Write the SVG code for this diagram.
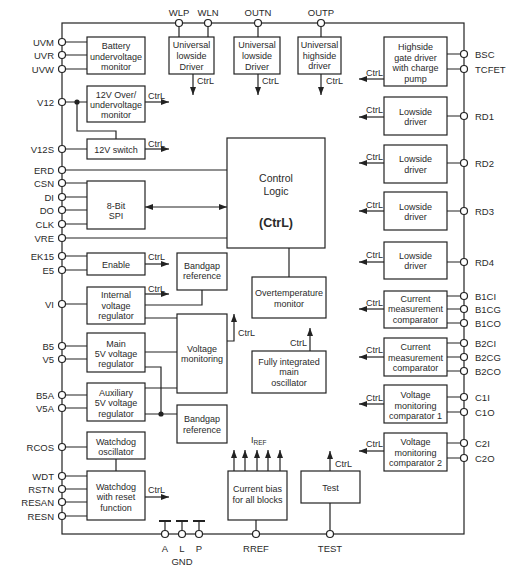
<svg xmlns="http://www.w3.org/2000/svg" width="519" height="574" viewBox="0 0 519 574">
<defs>
<marker id="ah" markerUnits="userSpaceOnUse" markerWidth="8" markerHeight="6" refX="8" refY="3" orient="auto"><path d="M0,0 L8,3 L0,6 z" fill="#222"/></marker>
<marker id="ahs" markerUnits="userSpaceOnUse" markerWidth="8" markerHeight="6" refX="0" refY="3" orient="auto"><path d="M8,0 L0,3 L8,6 z" fill="#222"/></marker>
</defs>
<style>
.b{fill:#fff;stroke:#222;stroke-width:1.2}
.l{fill:none;stroke:#222;stroke-width:1.2}
.a{fill:none;stroke:#222;stroke-width:1.2;marker-end:url(#ah)}
.p{fill:#fff;stroke:#222;stroke-width:1.2}
text{font-family:"Liberation Sans",Arial,sans-serif;font-size:9px;fill:#2a2a2a}
.c{text-anchor:middle}
.pl{font-size:9.5px;text-anchor:end}
.pr{font-size:9.5px}
.pt{font-size:9.5px;text-anchor:middle}
.big{font-size:10.5px;text-anchor:middle}
.bold{font-size:12.5px;font-weight:bold;text-anchor:middle}
</style>
<rect width="519" height="574" fill="#fff"/>

<g id="connectors">
<rect x="62" y="23" width="402" height="511" class="l"/>
<!-- top pins -->
<path class="l" d="M179,23V37M208,23V37M258,23V37M321,23V37"/>
<!-- battery -->
<path class="l" d="M62,42H87M62,55H87M62,69H87"/>
<!-- V12 -->
<path class="l" d="M62,102H87M77,102V131H116V139M62,149H87"/>
<circle cx="77" cy="102" r="2.6" fill="#222"/>
<!-- ERD, VRE, SPI -->
<path class="l" d="M62,170H227M62,238H227M62,183H87M62,197H87M62,210H87M62,224H87"/>
<path class="l" d="M145,207H227" style="marker-end:url(#ah);marker-start:url(#ahs)"/>
<!-- control to ot -->
<path class="l" d="M289,248V277"/>
<!-- right pins -->
<path class="l" d="M447,54H464M447,69H464M447,116H464M447,163H464M447,211H464M447,262H464M447,296H464M447,309H464M447,323H464M447,343H464M447,357H464M447,371H464M447,397H464M447,412H464M447,443H464M447,458H464"/>
<!-- left lower -->
<path class="l" d="M62,256H87M62,270H87M62,304H87M62,346H87M62,359H87M62,395H87M62,408H87M62,447H87M62,476H87M62,489H87M62,502H87M62,516H87"/>
<path class="l" d="M202,290V305H145M145,318H177M145,352H177M145,367H161V414M145,388H177M145,414H177M116,459V471"/>
<circle cx="161" cy="414" r="2.6" fill="#222"/>
<!-- bottom -->
<path class="l" d="M256,520V534M330,503V534M165,521V534M182,521V534M199,521V534"/>
<path d="M159,521H171M176,521H188M193,521H205" fill="none" stroke="#222" stroke-width="2"/>
<!-- CtrL arrows -->
<path class="a" d="M145,102H169"/>
<path class="a" d="M145,149H169"/>
<path class="a" d="M145,264H169"/>
<path class="a" d="M145,294H169"/>
<path class="a" d="M145,497H169"/>
<path class="a" d="M384,79H359"/>
<path class="a" d="M384,117H359"/>
<path class="a" d="M384,163H359"/>
<path class="a" d="M384,211H359"/>
<path class="a" d="M384,262H359"/>
<path class="a" d="M384,309H359"/>
<path class="a" d="M384,357H359"/>
<path class="a" d="M384,404H359"/>
<path class="a" d="M384,451H359"/>
<path class="a" d="M193,74V95"/>
<path class="a" d="M258,74V95"/>
<path class="a" d="M321,74V95"/>
<path class="a" d="M227,341H234V314"/>
<path class="a" d="M310,351V328"/>
<path class="a" d="M330,471V451"/>
<path class="a" d="M234,471V450"/>
<path class="a" d="M245,471V450"/>
<path class="a" d="M257,471V450"/>
<path class="a" d="M268,471V450"/>
<path class="a" d="M280,471V450"/>
<!-- CtrL labels -->
<text x="148" y="98.5">CtrL</text>
<text x="148" y="146.5">CtrL</text>
<text x="148" y="259.5">CtrL</text>
<text x="148" y="291.5">CtrL</text>
<text x="148" y="492.5">CtrL</text>
<text x="366" y="75.5">CtrL</text>
<text x="366" y="112.5">CtrL</text>
<text x="366" y="159.5">CtrL</text>
<text x="366" y="207.5">CtrL</text>
<text x="366" y="257.5">CtrL</text>
<text x="366" y="305.5">CtrL</text>
<text x="366" y="352.5">CtrL</text>
<text x="366" y="400.5">CtrL</text>
<text x="366" y="446.5">CtrL</text>
<text x="197" y="83.5">CtrL</text>
<text x="262" y="83.5">CtrL</text>
<text x="326" y="83.5">CtrL</text>
<text x="238" y="335.5">CtrL</text>
<text x="307" y="345.5" text-anchor="end">CtrL</text>
<text x="335" y="466.5">CtrL</text>
<text x="251" y="443">I<tspan font-size="6.5" dy="1.5">REF</tspan></text>
</g>

<g id="pins">
<g class="p">
<circle cx="179" cy="23" r="3.5"/><circle cx="208" cy="23" r="3.5"/><circle cx="258" cy="23" r="3.5"/><circle cx="321" cy="23" r="3.5"/>
<circle cx="62" cy="42" r="3.5"/><circle cx="62" cy="55" r="3.5"/><circle cx="62" cy="69" r="3.5"/><circle cx="62" cy="102" r="3.5"/><circle cx="62" cy="149" r="3.5"/><circle cx="62" cy="170" r="3.5"/><circle cx="62" cy="183" r="3.5"/><circle cx="62" cy="197" r="3.5"/><circle cx="62" cy="210" r="3.5"/><circle cx="62" cy="224" r="3.5"/><circle cx="62" cy="238" r="3.5"/><circle cx="62" cy="256" r="3.5"/><circle cx="62" cy="270" r="3.5"/><circle cx="62" cy="304" r="3.5"/><circle cx="62" cy="346" r="3.5"/><circle cx="62" cy="359" r="3.5"/><circle cx="62" cy="395" r="3.5"/><circle cx="62" cy="408" r="3.5"/><circle cx="62" cy="447" r="3.5"/><circle cx="62" cy="476" r="3.5"/><circle cx="62" cy="489" r="3.5"/><circle cx="62" cy="502" r="3.5"/><circle cx="62" cy="516" r="3.5"/>
<circle cx="464" cy="54" r="3.5"/><circle cx="464" cy="69" r="3.5"/><circle cx="464" cy="116" r="3.5"/><circle cx="464" cy="163" r="3.5"/><circle cx="464" cy="211" r="3.5"/><circle cx="464" cy="262" r="3.5"/><circle cx="464" cy="296" r="3.5"/><circle cx="464" cy="309" r="3.5"/><circle cx="464" cy="323" r="3.5"/><circle cx="464" cy="343" r="3.5"/><circle cx="464" cy="357" r="3.5"/><circle cx="464" cy="371" r="3.5"/><circle cx="464" cy="397" r="3.5"/><circle cx="464" cy="412" r="3.5"/><circle cx="464" cy="443" r="3.5"/><circle cx="464" cy="458" r="3.5"/>
<circle cx="165" cy="534" r="3.5"/><circle cx="182" cy="534" r="3.5"/><circle cx="199" cy="534" r="3.5"/><circle cx="256" cy="534" r="3.5"/><circle cx="330" cy="534" r="3.5"/>
</g>
<text class="pt" x="179" y="15.5">WLP</text><text class="pt" x="208" y="15.5">WLN</text><text class="pt" x="258" y="15.5">OUTN</text><text class="pt" x="321" y="15.5">OUTP</text>
<text class="pl" x="54" y="45.5">UVM</text><text class="pl" x="54" y="58.5">UVR</text><text class="pl" x="54" y="72.5">UVW</text><text class="pl" x="54" y="105.5">V12</text><text class="pl" x="54" y="152.5">V12S</text><text class="pl" x="54" y="173.5">ERD</text><text class="pl" x="54" y="186.5">CSN</text><text class="pl" x="54" y="200.5">DI</text><text class="pl" x="54" y="213.5">DO</text><text class="pl" x="54" y="227.5">CLK</text><text class="pl" x="54" y="241.5">VRE</text><text class="pl" x="54" y="259.5">EK15</text><text class="pl" x="54" y="273.5">E5</text><text class="pl" x="54" y="307.5">VI</text><text class="pl" x="54" y="349.5">B5</text><text class="pl" x="54" y="362.5">V5</text><text class="pl" x="54" y="398.5">B5A</text><text class="pl" x="54" y="411.5">V5A</text><text class="pl" x="54" y="450.5">RCOS</text><text class="pl" x="54" y="479.5">WDT</text><text class="pl" x="54" y="492.5">RSTN</text><text class="pl" x="54" y="505.5">RESAN</text><text class="pl" x="54" y="519.5">RESN</text>
<text class="pr" x="475" y="57.5">BSC</text><text class="pr" x="475" y="72.5">TCFET</text><text class="pr" x="475" y="119.5">RD1</text><text class="pr" x="475" y="166.5">RD2</text><text class="pr" x="475" y="214.5">RD3</text><text class="pr" x="475" y="265.5">RD4</text><text class="pr" x="475" y="299.5">B1CI</text><text class="pr" x="475" y="312.5">B1CG</text><text class="pr" x="475" y="326.5">B1CO</text><text class="pr" x="475" y="346.5">B2CI</text><text class="pr" x="475" y="360.5">B2CG</text><text class="pr" x="475" y="374.5">B2CO</text><text class="pr" x="475" y="400.5">C1I</text><text class="pr" x="475" y="415.5">C1O</text><text class="pr" x="475" y="446.5">C2I</text><text class="pr" x="475" y="461.5">C2O</text>
<text class="pt" x="165" y="551.5">A</text><text class="pt" x="182" y="551.5">L</text><text class="pt" x="199" y="551.5">P</text><text class="pt" x="182" y="564.5">GND</text><text class="pt" x="256" y="551.5">RREF</text><text class="pt" x="330" y="551.5">TEST</text>
</g>

<g id="battery"><rect class="b" x="87" y="37" width="58" height="37"/><text class="c" x="116" y="48.5">Battery</text><text class="c" x="116" y="59.5">undervoltage</text><text class="c" x="116" y="69.5">monitor</text></g>
<g id="uld1"><rect class="b" x="169" y="37" width="45" height="37"/><text class="c" x="191.5" y="47.5">Universal</text><text class="c" x="191.5" y="58.5">lowside</text><text class="c" x="191.5" y="69.5">Driver</text></g>
<g id="uld2"><rect class="b" x="234" y="37" width="46" height="37"/><text class="c" x="257" y="47.5">Universal</text><text class="c" x="257" y="58.5">lowside</text><text class="c" x="257" y="69.5">Driver</text></g>
<g id="uhd"><rect class="b" x="298" y="37" width="43" height="37"/><text class="c" x="319.5" y="47.5">Universal</text><text class="c" x="319.5" y="58.5">highside</text><text class="c" x="319.5" y="68.5">driver</text></g>
<g id="hsgd"><rect class="b" x="384" y="37" width="63" height="49"/><text class="c" x="415.5" y="49.5">Highside</text><text class="c" x="415.5" y="60.5">gate driver</text><text class="c" x="415.5" y="70.5">with charge</text><text class="c" x="415.5" y="81.5">pump</text></g>
<g id="ov12"><rect class="b" x="87" y="86" width="58" height="36"/><text class="c" x="116" y="97.5">12V Over/</text><text class="c" x="116" y="107.5">undervoltage</text><text class="c" x="116" y="117.5">monitor</text></g>
<g id="ld1"><rect class="b" x="384" y="97" width="63" height="38"/><text class="c" x="415.5" y="114.5">Lowside</text><text class="c" x="415.5" y="124.5">driver</text></g>
<g id="sw12"><rect class="b" x="87" y="139" width="58" height="20"/><text class="c" x="116" y="153">12V switch</text></g>
<g id="ctrl"><rect class="b" x="227" y="138" width="98" height="110"/><text class="big" x="276" y="181.5">Control</text><text class="big" x="276" y="194.5">Logic</text><text class="bold" x="276" y="226.5">(CtrL)</text></g>
<g id="ld2"><rect class="b" x="384" y="145" width="63" height="38"/><text class="c" x="415.5" y="161.5">Lowside</text><text class="c" x="415.5" y="172.5">driver</text></g>
<g id="spi"><rect class="b" x="87" y="181" width="58" height="48"/><text class="c" x="116" y="208.5">8-Bit</text><text class="c" x="116" y="218.5">SPI</text></g>
<g id="ld3"><rect class="b" x="384" y="192" width="63" height="38"/><text class="c" x="415.5" y="209.5">Lowside</text><text class="c" x="415.5" y="219.5">driver</text></g>
<g id="ld4"><rect class="b" x="384" y="242" width="63" height="37"/><text class="c" x="415.5" y="258.5">Lowside</text><text class="c" x="415.5" y="268.5">driver</text></g>
<g id="enable"><rect class="b" x="87" y="253" width="58" height="22"/><text class="c" x="116" y="267.5">Enable</text></g>
<g id="bg1"><rect class="b" x="177" y="253" width="50" height="37"/><text class="c" x="202" y="268.5">Bandgap</text><text class="c" x="202" y="278.5">reference</text></g>
<g id="ot"><rect class="b" x="252" y="277" width="74" height="41"/><text class="c" x="289" y="295.5">Overtemperature</text><text class="c" x="289" y="306.5">monitor</text></g>
<g id="ivr"><rect class="b" x="87" y="287" width="58" height="37"/><text class="c" x="116" y="297.5">Internal</text><text class="c" x="116" y="308.5">voltage</text><text class="c" x="116" y="318.5">regulator</text></g>
<g id="cmc1"><rect class="b" x="384" y="291" width="63" height="37"/><text class="c" x="415.5" y="301.5">Current</text><text class="c" x="415.5" y="311.5">measurement</text><text class="c" x="415.5" y="322.5">comparator</text></g>
<g id="vm"><rect class="b" x="177" y="314" width="50" height="79"/><text class="c" x="202" y="351.5">Voltage</text><text class="c" x="202" y="361.5">monitoring</text></g>
<g id="m5"><rect class="b" x="87" y="333" width="58" height="39"/><text class="c" x="116" y="346.5">Main</text><text class="c" x="116" y="356.5">5V voltage</text><text class="c" x="116" y="366.5">regulator</text></g>
<g id="cmc2"><rect class="b" x="384" y="338" width="63" height="38"/><text class="c" x="415.5" y="349.5">Current</text><text class="c" x="415.5" y="360.5">measurement</text><text class="c" x="415.5" y="370.5">comparator</text></g>
<g id="osc"><rect class="b" x="252" y="351" width="74" height="42"/><text class="c" x="289" y="364.5">Fully integrated</text><text class="c" x="289" y="374.5">main</text><text class="c" x="289" y="385.5">oscillator</text></g>
<g id="aux"><rect class="b" x="87" y="383" width="58" height="38"/><text class="c" x="116" y="395.5">Auxiliary</text><text class="c" x="116" y="405.5">5V voltage</text><text class="c" x="116" y="416.5">regulator</text></g>
<g id="vmc1"><rect class="b" x="384" y="385" width="63" height="38"/><text class="c" x="415.5" y="397.5">Voltage</text><text class="c" x="415.5" y="408.5">monitoring</text><text class="c" x="415.5" y="418.5">comparator 1</text></g>
<g id="bg2"><rect class="b" x="177" y="405" width="50" height="38"/><text class="c" x="202" y="421.5">Bandgap</text><text class="c" x="202" y="432.5">reference</text></g>
<g id="wdo"><rect class="b" x="87" y="432" width="58" height="27"/><text class="c" x="116" y="444.5">Watchdog</text><text class="c" x="116" y="454.5">oscillator</text></g>
<g id="vmc2"><rect class="b" x="384" y="433" width="63" height="38"/><text class="c" x="415.5" y="444.5">Voltage</text><text class="c" x="415.5" y="455.5">monitoring</text><text class="c" x="415.5" y="465.5">comparator 2</text></g>
<g id="wd"><rect class="b" x="87" y="471" width="58" height="49"/><text class="c" x="116" y="489.5">Watchdog</text><text class="c" x="116" y="499.5">with reset</text><text class="c" x="116" y="510.5">function</text></g>
<g id="cbias"><rect class="b" x="228" y="471" width="59" height="49"/><text class="c" x="257.5" y="492">Current bias</text><text class="c" x="257.5" y="503">for all blocks</text></g>
<g id="test"><rect class="b" x="301" y="471" width="59" height="32"/><text class="c" x="330.5" y="490.5">Test</text></g>
</svg>
